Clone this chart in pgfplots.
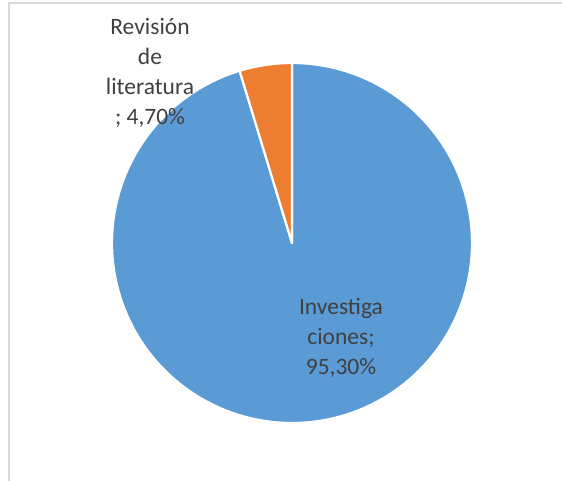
\documentclass[border=0pt]{standalone}
\usepackage{pgfplots}
\usepackage{pgfplotstable}
\pgfplotsset{compat=1.18}
\usepackage{fontspec}
\setmainfont{Carlito}
\definecolor{pieblue}{HTML}{5B9BD5}
\definecolor{pieorange}{HTML}{ED7D31}
\definecolor{labelgray}{HTML}{404040}
\definecolor{framegray}{HTML}{D9D9D9}
\pgfplotstableread{
label value
Investigaciones 95.30
Revision 4.70
}\piedata
\begin{document}
\begin{tikzpicture}
\pgfplotstablegetelem{0}{value}\of\piedata \let\va\pgfplotsretval
\pgfplotstablegetelem{1}{value}\of\piedata \let\vb\pgfplotsretval
\pgfmathsetmacro\bS{90-3.6*\va}
\pgfmathsetmacro\oE{90+3.6*\vb}
\begin{axis}[
  name=pie,
  width=562bp, height=481bp, scale only axis,
  xmin=-292, xmax=270, ymin=-238, ymax=243,
  enlargelimits=false, hide axis, clip=false,
]
\draw[framegray, line width=1.5bp] (axis cs:-283,-238) -- (axis cs:-283,240) -- (axis cs:270,240);
\addplot[fill=pieblue, draw=white, line width=2.2bp, domain=\bS:90, samples=400, line join=round]
  ({180*cos(x)},{180*sin(x)}) -- (axis cs:0,0) -- cycle;
\addplot[fill=pieorange, draw=white, line width=2.2bp, domain=90:\oE, samples=60, line join=round]
  ({180*cos(x)},{180*sin(x)}) -- (axis cs:0,0) -- cycle;
\node[align=center, text=labelgray, font=\fontsize{23.5bp}{30bp}\selectfont] at (axis cs:-142,170)
  {Revisión\\de\\literatura\\; 4,70\%};
\node[align=center, text=labelgray, font=\fontsize{23.5bp}{30bp}\selectfont] at (axis cs:49,-95)
  {Investiga\\ciones;\\95,30\%};
\end{axis}
\pgfresetboundingbox
\useasboundingbox (pie.south west) rectangle (pie.north east);
\end{tikzpicture}
\end{document}
